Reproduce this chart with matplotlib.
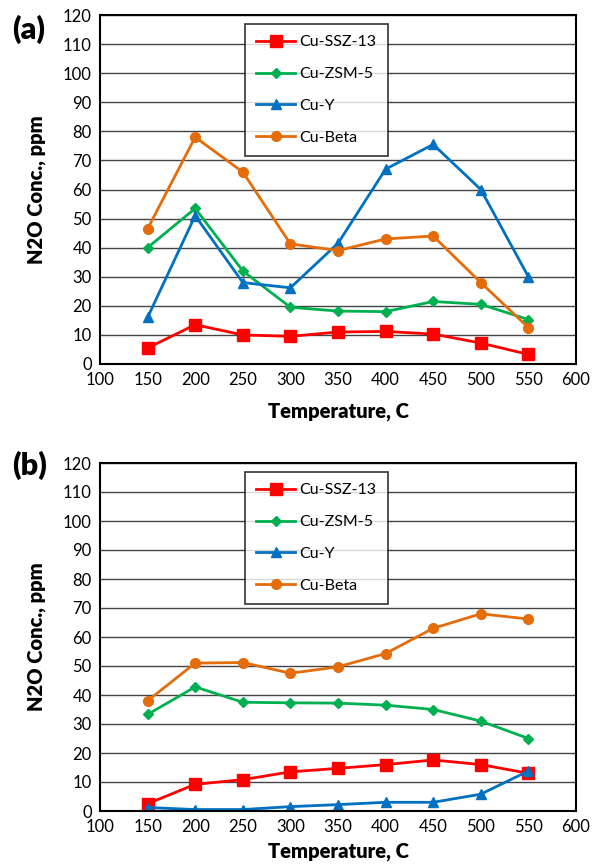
import matplotlib.pyplot as plt

plt.rcParams['font.family'] = ['Lato', 'DejaVu Sans']

temps = [150, 200, 250, 300, 350, 400, 450, 500, 550]

# panel (a)
ssz13_a = [5.5, 13.5, 10.0, 9.5, 11.0, 11.2, 10.3, 7.2, 3.3]
zsm5_a = [40.0, 53.5, 32.0, 19.5, 18.2, 18.0, 21.5, 20.5, 15.3]
cuy_a = [16.0, 51.0, 28.0, 26.2, 41.5, 67.0, 75.5, 60.0, 30.0]
beta_a = [46.5, 78.0, 66.0, 41.3, 39.0, 43.0, 44.0, 28.0, 12.5]

# panel (b)
ssz13_b = [2.5, 9.2, 10.8, 13.5, 14.7, 16.0, 17.6, 16.0, 13.0]
zsm5_b = [33.3, 42.8, 37.5, 37.3, 37.2, 36.5, 35.0, 31.0, 25.0]
cuy_b = [1.2, 0.5, 0.5, 1.5, 2.2, 3.0, 3.0, 5.8, 13.8]
beta_b = [38.0, 51.0, 51.2, 47.5, 49.7, 54.3, 63.0, 68.0, 66.2]

names = ['Cu-SSZ-13', 'Cu-ZSM-5', 'Cu-Y', 'Cu-Beta']
colors = ['#FF0000', '#00B050', '#0070C0', '#E46C0A']
markers = ['s', 'D', '^', 'o']
msizes = [8, 5, 7.5, 7]

fig = plt.figure(figsize=(5.92, 8.65), dpi=100)
ax_a = fig.add_axes([100/592, 1 - 364/865, 476/592, 349/865])
ax_b = fig.add_axes([100/592, 1 - 811/865, 476/592, 348/865])

# axis, data, panel tag, tag y, xlabel pad
panels = [(ax_a, [ssz13_a, zsm5_a, cuy_a, beta_a], '(a)', 1.0, 10),
          (ax_b, [ssz13_b, zsm5_b, cuy_b, beta_b], '(b)', 1.035, 5)]

for ax, series, tag, tag_y, xpad in panels:
    for vals, name, c, m, ms in zip(series, names, colors, markers, msizes):
        ax.plot(temps, vals, color=c, marker=m, markersize=ms, lw=2, label=name)
    ax.set_xlim(100, 600)
    ax.set_ylim(0, 120)
    ax.set_xticks(range(100, 601, 50))
    ax.set_yticks(range(0, 121, 10))
    ax.grid(axis='y', color='#444444', lw=1)
    ax.set_axisbelow(True)
    for s in ax.spines.values():
        s.set_linewidth(1.5)
    ax.tick_params(length=0, labelsize=12, pad=6)
    ax.set_xlabel('Temperature, C', fontsize=14.5, fontweight='heavy', labelpad=xpad)
    ax.set_ylabel('N2O Conc., ppm', fontsize=14.5, fontweight='heavy', labelpad=12)
    leg = ax.legend(loc='upper left', bbox_to_anchor=(0.305, 0.974), fontsize=11.5,
                    frameon=True, fancybox=False, edgecolor='black',
                    borderaxespad=0, handlelength=2.4, handletextpad=0.3,
                    labelspacing=1.1, borderpad=0.7)
    leg.get_frame().set_linewidth(1.2)
    ax.text(-0.185, tag_y, tag, transform=ax.transAxes, fontsize=22,
            fontweight='heavy', ha='left', va='top')

plt.savefig('out.png', dpi=100)
